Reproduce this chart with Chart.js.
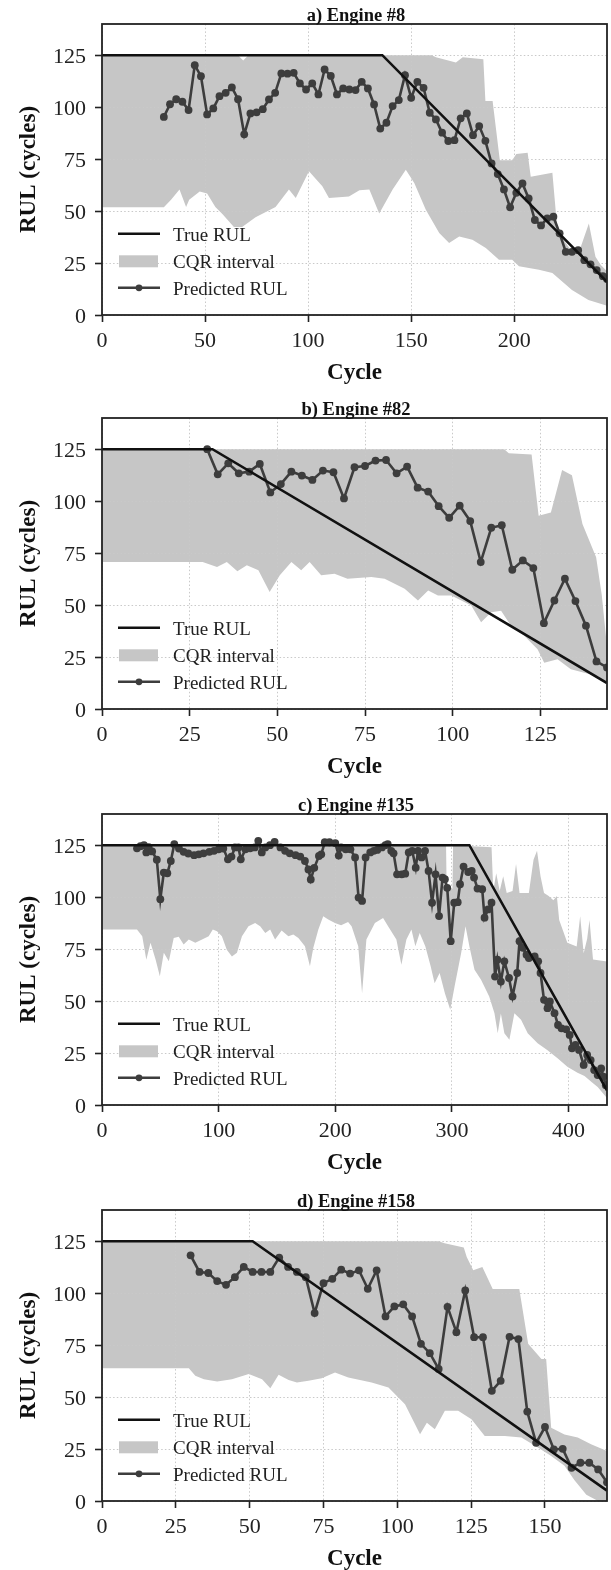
<!DOCTYPE html>
<html><head><meta charset="utf-8">
<script src="https://cdn.jsdelivr.net/npm/chart.js@4.4.1/dist/chart.umd.min.js"></script>
<style>
html,body{margin:0;padding:0;background:#fff;overflow:hidden;width:611px;height:1570px;}
.p{position:absolute;left:0;width:611px;height:390px;}
canvas{display:block;}
</style></head><body>
<div class="p" style="top:0px"><canvas id="c0" width="611" height="390"></canvas></div>
<div class="p" style="top:394px"><canvas id="c1" width="611" height="390"></canvas></div>
<div class="p" style="top:790px"><canvas id="c2" width="611" height="390"></canvas></div>
<div class="p" style="top:1186px"><canvas id="c3" width="611" height="390"></canvas></div>
<script>
// ---------- Panel a) Engine #8 ----------
const aPredX = [30,33,36,39,42,45,48,51,54,57,60,63,66,69,72,75,78,81,84,87,90,93,96,99,102,105,108,111,114,117,120,123,126,129,132,135,138,141,144,147,150,153,156,159,162,165,168,171,174,177,180,183,186,189,192,195,198,201,204,207,210,213,216,219,222,225,228,231,234,237,240,243,245];
const aPredY = [95.3,101.4,103.8,102.6,98.6,120.2,114.9,96.5,99.4,105.3,106.9,109.5,103.8,86.9,97,97.5,99,103.7,106.9,116.2,116.1,116.5,111.4,108.5,111.4,106.1,118.1,115,106.1,109,108.5,108.2,112.2,109,101.3,89.7,92.5,100.5,103.4,115.4,104.5,112.2,109.3,97.3,94.1,87.7,83.7,84.1,94.6,97,86.5,90.9,83.8,72.9,67.8,60.4,51.8,58.8,63.3,56.1,45.7,43.1,46.5,47.3,39.3,30.4,30.4,31.2,26.4,24.4,21.6,18.7,17.3];
const aTrueX = [0,136,245];
const aTrueY = [125,125,16];
const aUpX = [0,66,68.5,71,160,162,171.7,175,185,186,189.5,193,199,201,206.5,208,218.5,221,228,232,236.2,239.4,242,245];
const aUpY = [125,125,122.5,125,125,124,121.5,124,123,103,103,74.5,74.5,77.5,78,66.5,68.4,40,30.6,32,44,28,24,21];
const aLoX = [0,30,33.5,37.6,40.8,42.3,47.4,51,55,58.4,64,68,74.5,84.2,90.7,94,100.4,106.9,110.1,119.8,124.9,129.7,134.5,141,147.4,151.5,157.1,163.6,168.4,173.3,179.7,186.2,192.6,199,202.3,212,218.5,228,236,245];
const aLoY = [51.8,51.8,55.4,60.4,52,55.4,59.4,58.5,52,48.6,42.3,42.3,47,52,60.4,56.3,69.2,62,56.3,57,60,60.4,48.8,60.4,69.9,63.5,50.6,39.4,34.6,37.8,36.2,32.2,26.6,26.6,23.4,21.8,20.2,12,7.2,4.5];

// ---------- Panel b) Engine #82 ----------
const bPredX = [30,33,36,39,42,45,48,51,54,57,60,63,66,69,72,75,78,81,84,87,90,93,96,99,102,105,108,111,114,117,120,123,126,129,132,135,138,141,144];
const bPredY = [125,112.9,118.2,113.4,114.2,117.9,104.2,108.2,114.2,112.3,110.2,114.7,113.9,101.3,116.3,116.9,119.5,119.8,113.4,116.6,106.5,104.6,97.6,92,97.8,90.4,70.7,87.2,88.4,67,71.5,67.8,41.3,52.2,62.7,51.9,40.1,22.9,20];
const bTrueX = [0,31.5,144];
const bTrueY = [125,125,12.5];
const bUpX = [0,114.7,116,122.5,124.5,128,131.2,134,137,140.9,142.5,144];
const bUpY = [125,125,123,122.5,93,94.5,115,112.5,89,73,55,30];
const bLoX = [0,28.7,32.8,35.6,38.6,41.3,44.6,47.8,50.7,54,56.8,59.2,62.5,66.3,70,76.8,80.6,86.3,90.1,93,95.8,99.6,105.3,108.1,111,113.8,116.6,120.4,124.2,126.1,129.9,133.7,137.5,141.3,144];
const bLoY = [70.7,70.7,68.3,70.7,66.3,69.2,66.8,56.3,64.3,70.7,66.8,70.7,64.3,65.1,62.7,63.5,62.7,57.8,52.2,57,54.6,54.6,49.8,41.7,46.5,47.3,40.1,35.2,28.8,22.3,23.9,19.1,17.5,15.9,12.5];

// ---------- Panel c) Engine #135 ----------
const cPredX = [30,33,36,38,40,43,47,50,53,56,59,62,66,70,74,79,83,87,92,96,100,104,108,111,114,117,119,123,127,131,134,137,140,144,148,153,157,161,166,170,174,177,179,182,186,188,191,195,200,203,205,209,213,217,220,223,226,230,233,236,240,243,245,248,250,253,257,260,263,266,269,271,274,277,280,283,286,289,292,294,296,299,302,305,307,310,314,317,319,322,326,328,331,334,337,339,342,345,349,352,356,358,361,364,366,371,374,376,379,382,384,388,391,394,398,401,403,406,409,413,416,419,422,425,428,430,432];
const cPredY = [123.5,124.5,125,121.5,124,122,118,99,111.8,111.5,117.4,125.5,123.4,121.8,121,120.2,120.6,121.1,121.8,122.3,123,123.4,118.2,119.5,123.9,123.9,118.2,123,123.5,123.9,127.1,121.5,123.9,125,126.6,123.9,122.3,121.1,120.2,119.5,117.4,113.3,108.5,114.1,119.8,120.6,126.4,126.4,126,120,123.9,123,123,119.1,99.8,98.2,119.1,121.5,122.3,122.7,123.9,125,125.5,122.3,121.1,111,111,111.3,121.5,122.3,114.2,122.3,119.1,122.3,112.6,97.3,111,90.9,109.4,108.6,104.5,78.8,97.3,97.6,106.2,114.7,112.1,112.6,109.4,104.1,103.8,90.1,94.1,97.3,61.8,69.9,59.4,69.1,61.1,52.2,63.5,78.8,75.6,72.3,70.7,71.5,69.1,63.5,50.6,46.6,49.8,44.2,38.5,36.9,36.4,33.7,27.3,28.9,26.5,19.3,24.1,21.6,16.8,14.4,17.6,13.6,9.5];
const cTrueX = [0,315,433];
const cTrueY = [125,125,7];
const cUpX = [0,295,295.5,300.5,301,334,335.5,338,341,344,347,352,355,358,366,370,373,376,379,383,387,390,392,399,407,410,413,416,418,421,433];
const cUpY = [125,125,104,104,125,124,103,111.5,103,110,102,103,116,102,102,118,122.3,110,102,100.5,98.5,100.5,89,78,76.3,90.8,73,80,89,70,69];
const cLoX = [0,30,34.5,38,41.6,46,49.6,53,57.3,61.5,65.8,70,74.4,80,85.8,91.5,95,98.6,102.8,107,111.4,115.7,120,125.6,131.3,135.6,140,144.2,148.4,154,159.8,164,168.4,174,178.3,181.2,185.5,189.7,194,199.7,205,211,214,219.7,223,226.7,234,241,245.3,252.4,256.7,261,265.3,268.7,272.4,277.2,281.8,285.2,289.5,294,298.6,302.3,308,311.7,315,319.4,325,332,336.5,339.3,342,345,349.3,353.6,359.3,365,373.5,382,390.6,399,407.7,413.7,420,425,432.2,433];
const cLoY = [84.4,84.4,81.2,69.9,78,69.9,61.9,73.2,69.1,80.4,81,77.2,79.6,78,79.6,81.2,84.4,83.6,81.2,74.7,71.5,73.2,81.2,86,87.6,86,82.8,84.4,79.6,84,81.2,82,80.4,76.4,66.7,75.6,84.4,90.8,89.2,87.6,86.5,88,86,76.4,53.8,79.6,87.6,90,86,79.6,67.5,79.6,84.4,76.4,82.8,76.4,66.7,58.6,63.5,53.8,45.8,57,73.2,86,76.4,65.1,60.3,52.2,44.2,34.5,44,34.5,31.4,44.2,41,34.5,29.7,26.4,22.5,18.4,15.5,14,11,8.7,3.9,3.5];

// ---------- Panel d) Engine #158 ----------
const dPredX = [30,33,36,39,42,45,48,51,54,57,60,63,66,69,72,75,78,81,84,87,90,93,96,99,102,105,108,111,114,117,120,123,126,129,132,135,138,141,144,147,150,153,156,159,162,165,168,171];
const dPredY = [118.2,110.2,109.7,105.8,104,107.7,112.6,110.2,110.2,110.2,117.1,112.6,110.2,107.7,90.4,104.8,106.9,111.3,109.4,111,102.1,111,88.8,93.6,94.6,88.8,75.6,71.1,63.5,93.4,81.2,101.3,78.8,78.8,53,57.8,79,77.9,43,28,35.6,24.8,25.1,16,18.4,18.4,15.2,9];
const dTrueX = [0,51,171];
const dTrueY = [125,125,5];
const dUpX = [0,114,116,122.5,123.5,125.7,128.8,132.3,141.3,144.3,148.8,150.4,152.1,156.6,161.1,165.6,171];
const dUpY = [125,125,124,122,117.4,111,112.6,102,102,75.6,68.3,68.3,35.3,32,30.5,27.3,24];
const dLoX = [0,29.4,31.6,34.5,39,44,49.7,54.2,57,59.8,63.2,66,69.9,74.4,78.9,83.4,91.3,97,102.6,107.7,110,112.7,116.1,120.6,125.1,129.6,136.4,142,147.6,152.1,156.6,160,164,168,171];
const dLoY = [63.9,63.9,60.2,58.6,57.5,58.6,61.1,58.6,54.3,60.7,58.2,57,57.8,59.1,61.8,59.4,57,54.6,46.6,32.1,37.7,34.5,43.4,43.4,39.3,31.3,31.3,30.5,25.7,21.6,17,10,3,0,0];

const titles = ['a) Engine #8','b) Engine #82','c) Engine #135','d) Engine #158'];
const legendLabels = ['True RUL','CQR interval','Predicted RUL'];
const yTickStep = 25;

const FONT = '"Liberation Serif","Times New Roman",serif';
const BAND = '#c6c6c6';
const GRID = '#c9c9c9';
const PRED = '#3d3d3d';
const TRUE = '#111111';
const AXIS = '#222222';

const zip = (xs, ys) => xs.map((x, i) => ({x: x, y: ys[i]}));

function deco(title) {
  return {
    id: 'deco',
    afterDraw(chart) {
      const ctx = chart.ctx, a = chart.chartArea;
      ctx.save();
      ctx.strokeStyle = AXIS; ctx.lineWidth = 1.8; ctx.setLineDash([]);
      ctx.strokeRect(a.left, a.top, a.right - a.left, a.bottom - a.top);
      ctx.fillStyle = '#111';
      ctx.font = 'bold 18.5px ' + FONT;
      ctx.textAlign = 'center'; ctx.textBaseline = 'alphabetic';
      ctx.fillText(title, 356, a.top - 3.5);
      const x1 = 118, x2 = 160, tx = 173;
      const rows = [a.top + 209.8, a.top + 237.3, a.top + 263.8];
      ctx.font = '19px ' + FONT; ctx.textAlign = 'left';
      ctx.strokeStyle = TRUE; ctx.lineWidth = 2.6;
      ctx.beginPath(); ctx.moveTo(x1, rows[0]); ctx.lineTo(x2, rows[0]); ctx.stroke();
      ctx.fillStyle = BAND; ctx.fillRect(x1 + 1, rows[1] - 6, 39, 12);
      ctx.strokeStyle = PRED; ctx.lineWidth = 2.4;
      ctx.beginPath(); ctx.moveTo(x1, rows[2]); ctx.lineTo(x2, rows[2]); ctx.stroke();
      ctx.fillStyle = PRED; ctx.beginPath(); ctx.arc(139, rows[2], 3.4, 0, Math.PI * 2); ctx.fill();
      ctx.fillStyle = '#222';
      for (let i = 0; i < 3; i++) ctx.fillText(legendLabels[i], tx, rows[i] + 7);
      ctx.restore();
    }
  };
}

function makeChart(id, title, xMax, xStep, pX, pY, tX, tY, uX, uY, lX, lY) {
  const tickFont = {family: FONT, size: 22};
  const titleFont = {family: FONT, size: 23, weight: 'bold', lineHeight: 1.2};
  new Chart(document.getElementById(id), {
    type: 'line',
    data: {
      datasets: [
        {label: 'upper', data: zip(uX, uY), borderWidth: 0, borderColor: 'rgba(0,0,0,0)', pointRadius: 0, fill: '+1', backgroundColor: BAND, tension: 0},
        {label: 'lower', data: zip(lX, lY), borderWidth: 0, borderColor: 'rgba(0,0,0,0)', pointRadius: 0, fill: false, tension: 0},
        {label: 'True RUL', data: zip(tX, tY), borderColor: TRUE, borderWidth: 2.6, pointRadius: 0, fill: false, tension: 0},
        {label: 'Predicted RUL', data: zip(pX, pY), borderColor: PRED, borderWidth: 2.6, pointRadius: 3.9, pointBackgroundColor: PRED, pointBorderWidth: 0, fill: false, tension: 0}
      ]
    },
    options: {
      responsive: false, animation: false, devicePixelRatio: 1,
      layout: {padding: {top: 24, right: 2, left: 0, bottom: 0}},
      plugins: {legend: {display: false}, title: {display: false}, tooltip: {enabled: false},
                filler: {drawTime: 'beforeDraw', propagate: false}},
      scales: {
        x: {
          type: 'linear', min: 0, max: xMax,
          ticks: {stepSize: xStep, includeBounds: false, font: tickFont, color: AXIS, padding: 6, maxRotation: 0, autoSkip: false},
          grid: {color: GRID, lineWidth: 1, tickLength: 7, tickColor: AXIS, tickWidth: 1.6, tickBorderDash: [], borderDash: [1.5, 2.2]},
          border: {display: false, dash: [1.5, 2.2]},
          title: {display: true, text: 'Cycle', font: titleFont, color: '#111', padding: {top: 0, bottom: 3}},
          afterFit: s => { s.height = 75; }
        },
        y: {
          type: 'linear', min: 0, max: 140,
          ticks: {stepSize: yTickStep, includeBounds: false, font: tickFont, color: AXIS, padding: 9, labelOffset: 2},
          grid: {color: GRID, lineWidth: 1, tickLength: 7, tickColor: AXIS, tickWidth: 1.6, tickBorderDash: [], borderDash: [1.5, 2.2]},
          border: {display: false, dash: [1.5, 2.2]},
          title: {display: true, text: 'RUL (cycles)', font: titleFont, color: '#111', padding: {top: 15, bottom: 0}},
          afterFit: s => { s.width = 102; }
        }
      }
    },
    plugins: [deco(title)]
  });
}

makeChart('c0', titles[0], 245, 50, aPredX, aPredY, aTrueX, aTrueY, aUpX, aUpY, aLoX, aLoY);
makeChart('c1', titles[1], 144, 25, bPredX, bPredY, bTrueX, bTrueY, bUpX, bUpY, bLoX, bLoY);
makeChart('c2', titles[2], 433, 100, cPredX, cPredY, cTrueX, cTrueY, cUpX, cUpY, cLoX, cLoY);
makeChart('c3', titles[3], 171, 25, dPredX, dPredY, dTrueX, dTrueY, dUpX, dUpY, dLoX, dLoY);
</script>
</body></html>
